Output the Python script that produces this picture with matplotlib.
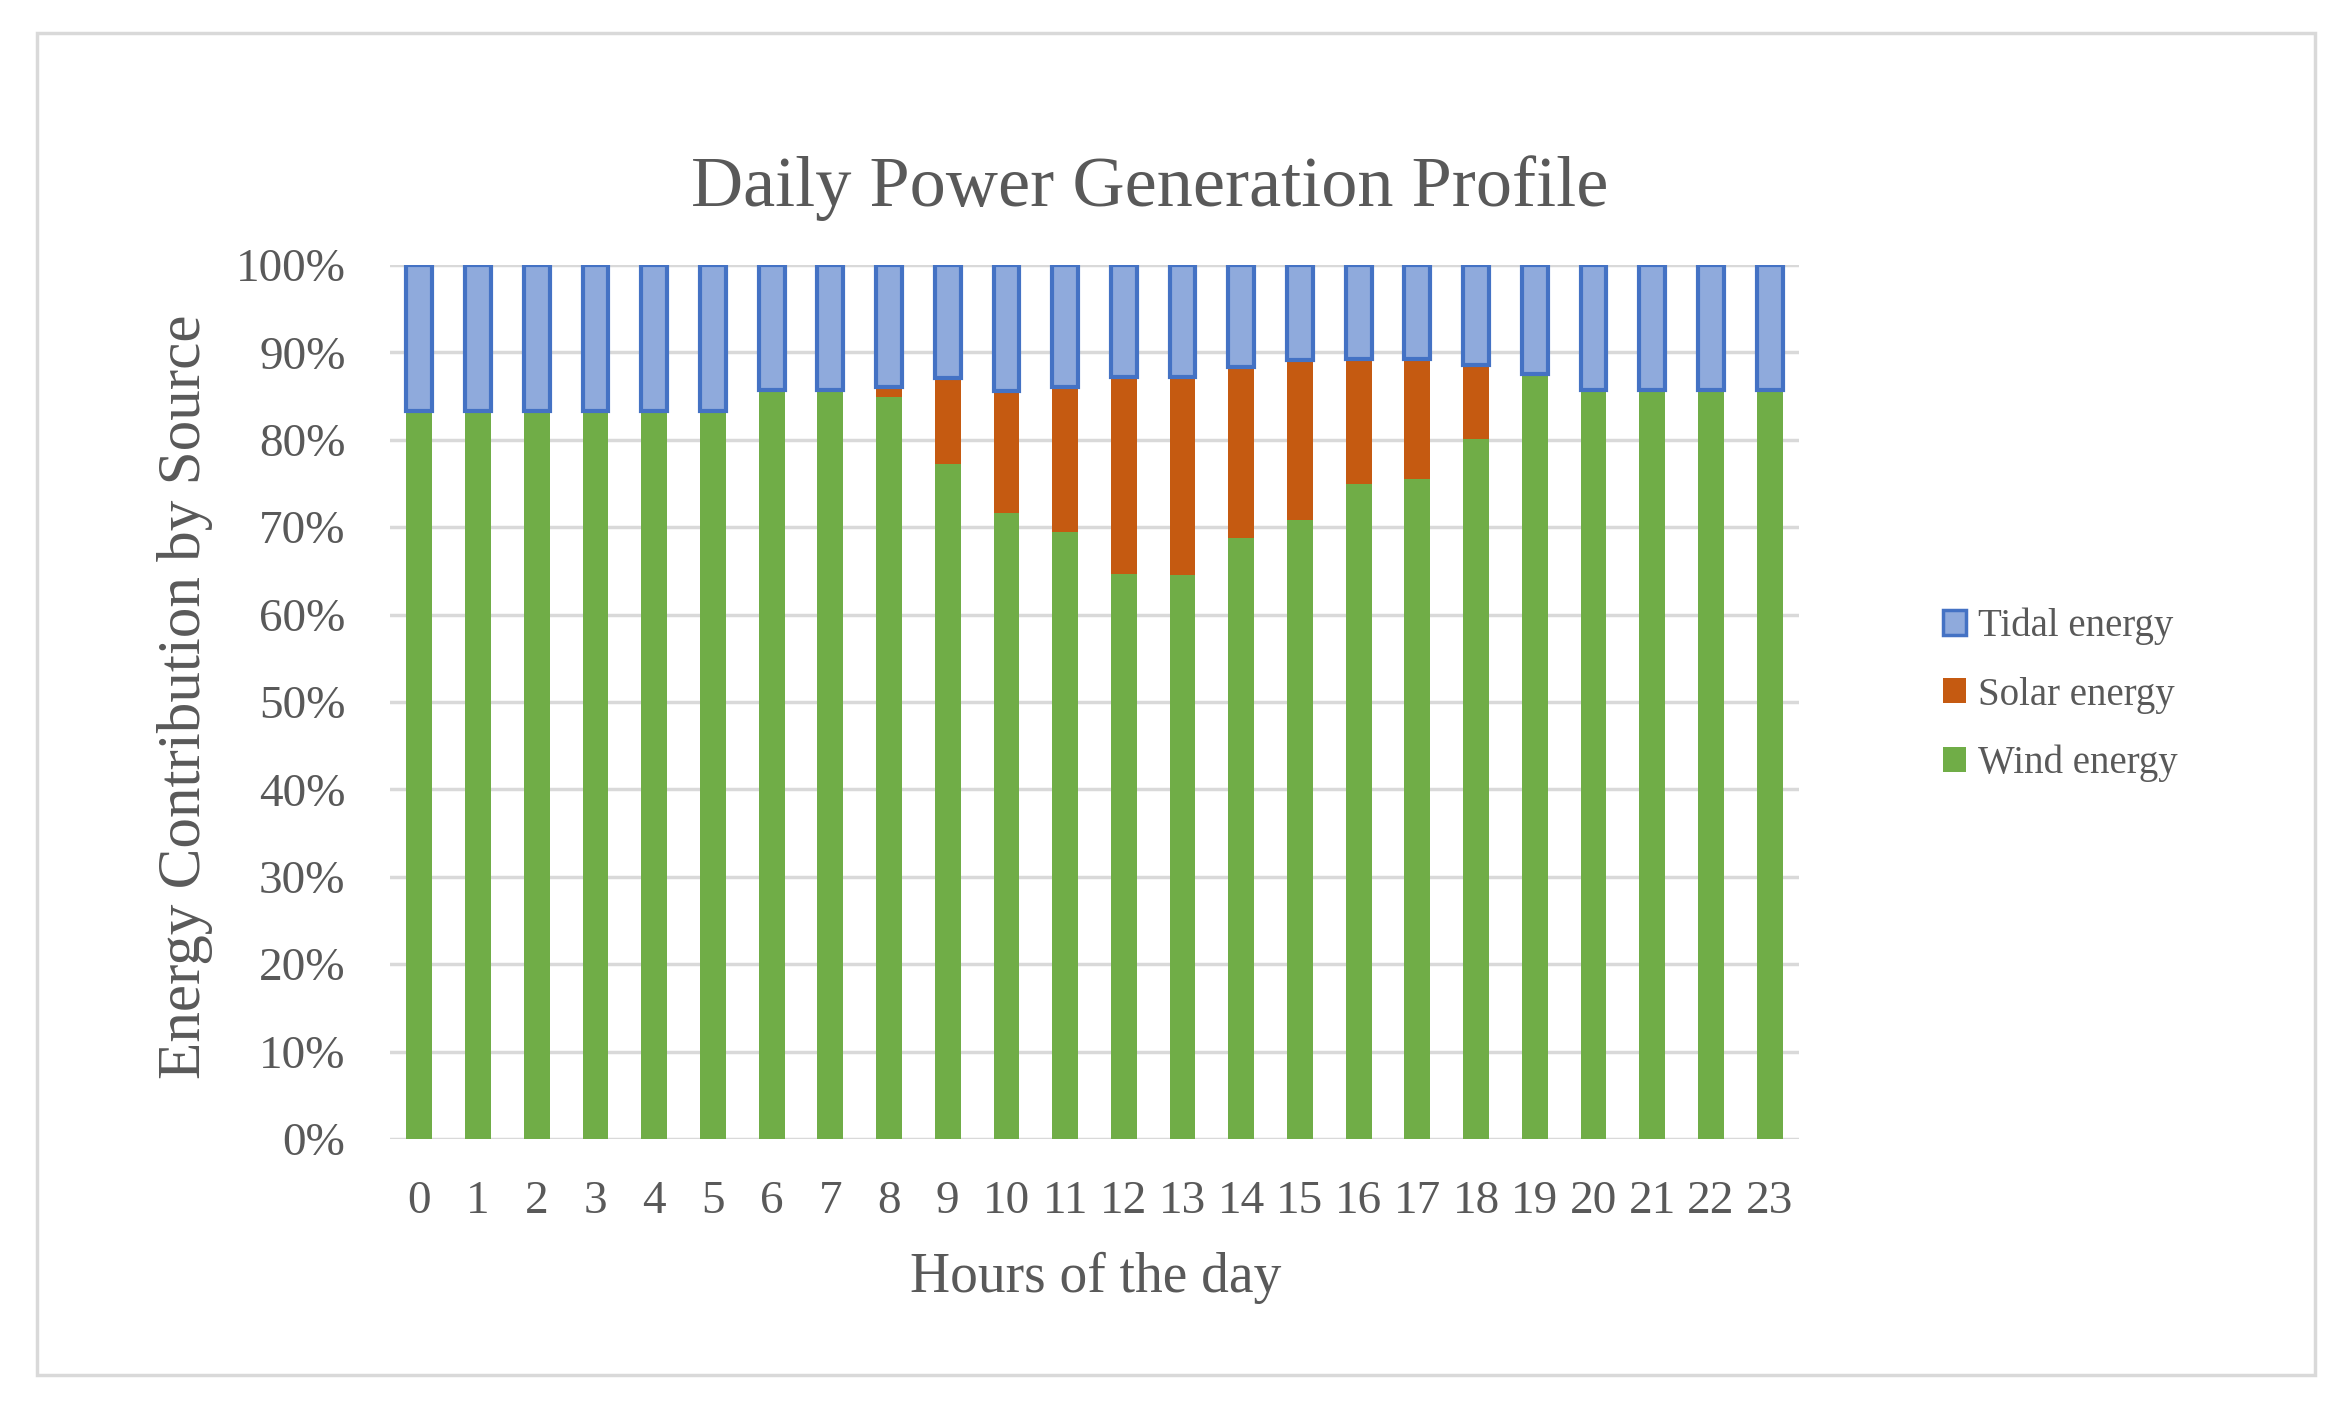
import matplotlib
matplotlib.use("Agg")
import matplotlib.pyplot as plt
from matplotlib.patches import Rectangle, Patch
import numpy as np

hours = [str(h) for h in range(24)]
wind = [83.3, 83.3, 83.3, 83.3, 83.3, 83.3, 85.7, 85.7, 84.9, 77.2, 71.6, 69.4,
        64.6, 64.5, 68.8, 70.8, 74.9, 75.5, 80.1, 87.5, 85.7, 85.7, 85.7, 85.7]
solar = [0, 0, 0, 0, 0, 0, 0, 0, 1.1, 9.9, 14.0, 16.6,
         22.6, 22.7, 19.5, 18.3, 14.4, 13.8, 8.5, 0, 0, 0, 0, 0]
tidal = [100 - w - s for w, s in zip(wind, solar)]
yticks = [0, 10, 20, 30, 40, 50, 60, 70, 80, 90, 100]

SERIF = ["Liberation Serif", "DejaVu Serif"]
TXT = "#595959"
C_WIND = "#70AD47"
C_SOLAR = "#C55A11"
C_TIDAL = "#8FAADC"
E_TIDAL = "#4472C4"
GRID = "#D9D9D9"

W, H = 2347, 1407
fig = plt.figure(figsize=(W / 100, H / 100), dpi=100)
fig.patch.set_facecolor("white")

# chart border
fig.add_artist(Rectangle((37 / W, 1 - 1375 / H), (2315 - 37) / W, (1375 - 33) / H,
                         transform=fig.transFigure, fill=False, edgecolor=GRID, linewidth=2.5))

ax_l, ax_r = 390 / W, 1799 / W
ax_t, ax_b = 1 - 265 / H, 1 - 1139 / H
ax = fig.add_axes([ax_l, ax_b, ax_r - ax_l, ax_t - ax_b])

x = np.arange(len(hours))
bw = 0.44
ax.bar(x, [w / 100 for w in wind], bw, color=C_WIND, zorder=3, label="Wind energy")
ax.bar(x, [s / 100 for s in solar], bw, bottom=[w / 100 for w in wind], color=C_SOLAR,
       zorder=3, label="Solar energy")
ax.bar(x, [t / 100 for t in tidal], bw, bottom=[(w + s) / 100 for w, s in zip(wind, solar)],
       color=C_TIDAL, edgecolor=E_TIDAL, linewidth=3, zorder=3, label="Tidal energy")

ax.set_xlim(-0.5, len(hours) - 0.5)
ax.set_ylim(0, 1)
ax.set_yticks([v / 100 for v in yticks])
ax.set_yticklabels([f"{v}%" for v in yticks])
ax.set_xticks(x)
ax.set_xticklabels(hours)
ax.grid(axis="y", color=GRID, linewidth=2.5, zorder=0)
ax.set_axisbelow(True)
for s in ax.spines.values():
    s.set_visible(False)
ax.tick_params(axis="both", length=0, labelsize=34, labelcolor=TXT)
ax.tick_params(axis="y", pad=32)
ax.tick_params(axis="x", pad=30)
for lab in ax.get_xticklabels() + ax.get_yticklabels():
    lab.set_family(SERIF)

fig.text(1150 / W, 1 - 188 / H, "Daily Power Generation Profile", ha="center", va="center",
         fontsize=52, color=TXT, family=SERIF)
fig.text(1096 / W, 1 - 1278 / H, "Hours of the day", ha="center", va="center",
         fontsize=40, color=TXT, family=SERIF)
fig.text(185 / W, 1 - 697 / H, "Energy Contribution by Source", ha="center", va="center",
         rotation=90, fontsize=44, color=TXT, family=SERIF)

handles = [Patch(facecolor=C_TIDAL, edgecolor=E_TIDAL, linewidth=2.5, label="Tidal energy"),
           Patch(facecolor=C_SOLAR, edgecolor="none", label="Solar energy"),
           Patch(facecolor=C_WIND, edgecolor="none", label="Wind energy")]
leg = fig.legend(handles=handles, loc="center left", bbox_to_anchor=(1943 / W, 1 - 695 / H),
                 frameon=False, prop={"family": SERIF, "size": 28}, labelcolor=TXT,
                 handlelength=0.6, handleheight=0.6, handletextpad=0.3, labelspacing=0.8,
                 borderaxespad=0, borderpad=0)

fig.savefig("out.png", dpi=100)
